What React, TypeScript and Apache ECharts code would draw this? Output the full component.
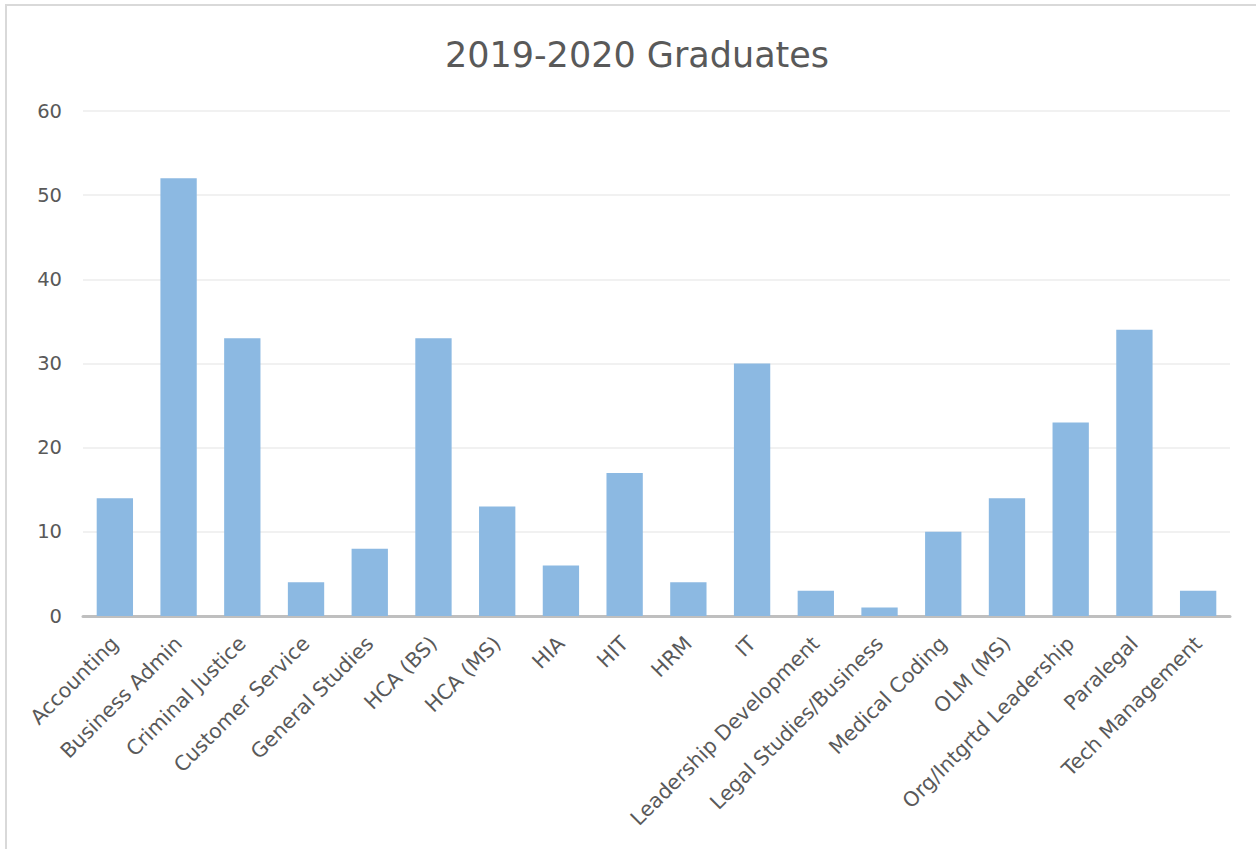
import React, { useEffect, useRef } from "react";
import * as echarts from "echarts";

const categories = [
  "Accounting",
  "Business Admin",
  "Criminal Justice",
  "Customer Service",
  "General Studies",
  "HCA (BS)",
  "HCA (MS)",
  "HIA",
  "HIT",
  "HRM",
  "IT",
  "Leadership Development",
  "Legal Studies/Business",
  "Medical Coding",
  "OLM (MS)",
  "Org/Intgrtd Leadership",
  "Paralegal",
  "Tech Management",
];
const graduates = [14, 52, 33, 4, 8, 33, 13, 6, 17, 4, 30, 3, 1, 10, 14, 23, 34, 3];
const chartTitle = "2019-2020 Graduates";

export default function App() {
  const ref = useRef<HTMLDivElement>(null);
  useEffect(() => {
    if (!ref.current) return;
    const chart = echarts.init(ref.current, null, { renderer: "svg" });
    const font = "'DejaVu Sans', 'Open Sans', sans-serif";
    chart.setOption({
      animation: false,
      backgroundColor: "#ffffff",
      title: {
        text: chartTitle,
        left: 632,
        textAlign: "center",
        top: 32,
        textStyle: { fontFamily: font, fontSize: 35, fontWeight: "normal", color: "#595959" },
      },
      graphic: [
        {
          type: "rect",
          shape: { x: 6, y: 5, width: 1300, height: 900 },
          style: { fill: "none", stroke: "#D9D9D9", lineWidth: 2 },
          silent: true,
          z: -10,
        },
      ],
      grid: { left: 83, right: 26, top: 111, bottom: 233, containLabel: false },
      xAxis: {
        type: "category",
        data: categories,
        axisLine: { lineStyle: { color: "#BFBFBF", width: 3 } },
        axisTick: { show: false },
        axisLabel: {
          rotate: 45,
          interval: 0,
          fontFamily: font,
          fontSize: 20.5,
          color: "#595959",
          margin: 24,
        },
      },
      yAxis: {
        type: "value",
        min: 0,
        max: 60,
        interval: 10,
        axisLine: { show: false },
        axisTick: { show: false },
        splitLine: { lineStyle: { color: "#EDEDED", width: 1.5 } },
        axisLabel: { fontFamily: font, fontSize: 19.5, color: "#595959", margin: 21 },
      },
      series: [
        {
          type: "bar",
          data: graduates,
          barCategoryGap: "43%",
          itemStyle: { color: "#8CB9E2" },
        },
      ],
    });
    return () => chart.dispose();
  }, []);
  return (
    <div
      ref={ref}
      style={{ position: "fixed", left: 0, top: 0, width: 1256, height: 849 }}
    />
  );
}
